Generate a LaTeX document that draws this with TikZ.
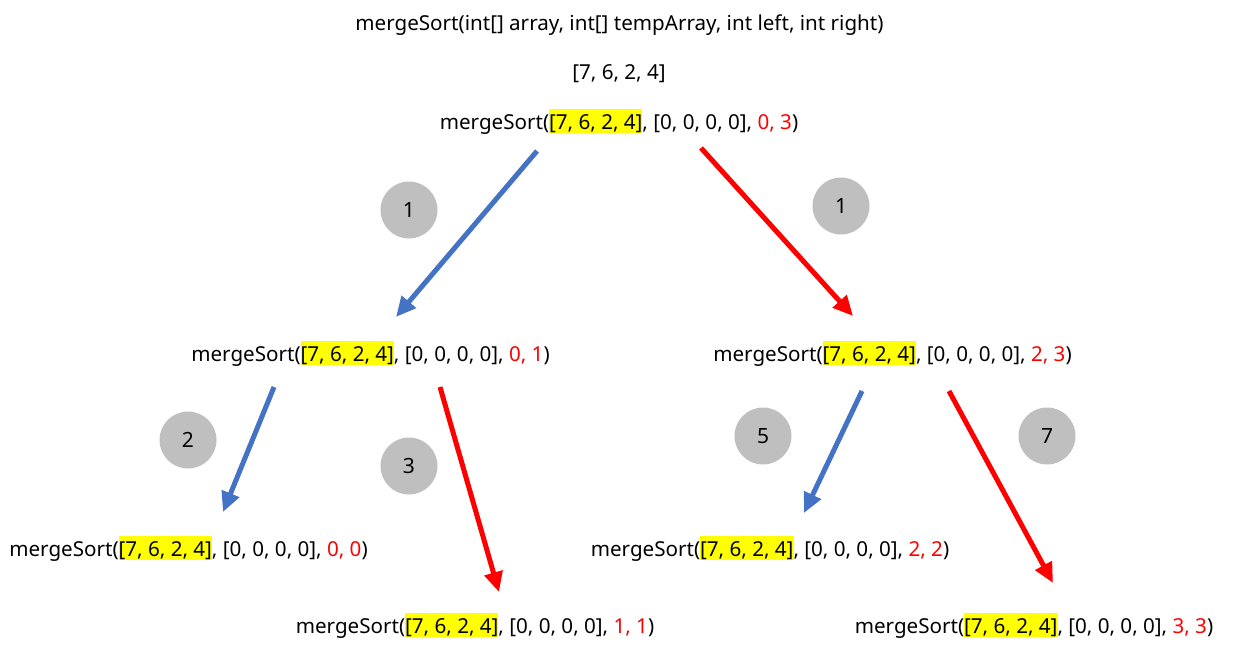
\documentclass[tikz,border=0pt]{standalone}
\usepackage{fontspec}
\setmainfont{Noto Sans}
\usetikzlibrary{arrows.meta}
\definecolor{myblue}{HTML}{4472C4}
\definecolor{myred}{HTML}{FF0000}
\definecolor{myyellow}{HTML}{FFFF00}
\definecolor{mygray}{HTML}{BFBFBF}
\newcommand{\hlbox}[1]{{\setlength{\fboxsep}{0pt}\colorbox{myyellow}{\rule[-0.14em]{0pt}{1.15em}#1}}}
\newcommand{\callmS}[2]{mergeSort(\hlbox{[7, 6, 2, 4]}, [0, 0, 0, 0], \textcolor{myred}{#1, #2})}
\begin{document}
\begin{tikzpicture}[x=1pt,y=-1pt,
  lbl/.style={font=\fontsize{20.6}{23}\selectfont, inner sep=0pt, anchor=base},
  num/.style={circle, fill=mygray, minimum size=57pt, inner sep=0pt, font=\fontsize{21}{23}\selectfont},
  barrow/.style={draw=myblue, line width=5pt, -{Triangle[length=20pt,width=18pt]}},
  rarrow/.style={draw=myred, line width=5pt, -{Triangle[length=20pt,width=18pt]}}]
\useasboundingbox (0,0) rectangle (1245,657);
\node[lbl] (title) at (619.5,30) {mergeSort(int[] array, int[] tempArray, int left, int right)};
\node[lbl] (arr) at (619,79) {[7, 6, 2, 4]};
\node[lbl] (root) at (619,129.5) {\callmS{0}{3}};
\node[lbl] (L) at (370.5,361.5) {\callmS{0}{1}};
\node[lbl] (R) at (892.5,361.5) {\callmS{2}{3}};
\node[lbl] (LL) at (188.5,556.5) {\callmS{0}{0}};
\node[lbl] (LR) at (475,633.5) {\callmS{1}{1}};
\node[lbl] (RL) at (770,556.5) {\callmS{2}{2}};
\node[lbl] (RR) at (1034,633.5) {\callmS{3}{3}};
\node[num] (c1) at (409,210) {1};
\node[num] (c1b) at (841,206) {1};
\node[num] (c2) at (188,440) {2};
\node[num] (c3) at (409,466) {3};
\node[num] (c5) at (763,436) {5};
\node[num] (c7) at (1047,436) {7};
\coordinate (a1s) at (537,151); \coordinate (a1e) at (396,317);
\coordinate (a2s) at (701,148); \coordinate (a2e) at (853,316);
\coordinate (a3s) at (274,387); \coordinate (a3e) at (223,512);
\coordinate (a4s) at (440,387); \coordinate (a4e) at (499,592);
\coordinate (a5s) at (862,391); \coordinate (a5e) at (804,513);
\coordinate (a6s) at (949,391); \coordinate (a6e) at (1053,583);
\draw[barrow] (a1s) -- (a1e);
\draw[rarrow] (a2s) -- (a2e);
\draw[barrow] (a3s) -- (a3e);
\draw[rarrow] (a4s) -- (a4e);
\draw[barrow] (a5s) -- (a5e);
\draw[rarrow] (a6s) -- (a6e);
\end{tikzpicture}
\end{document}
